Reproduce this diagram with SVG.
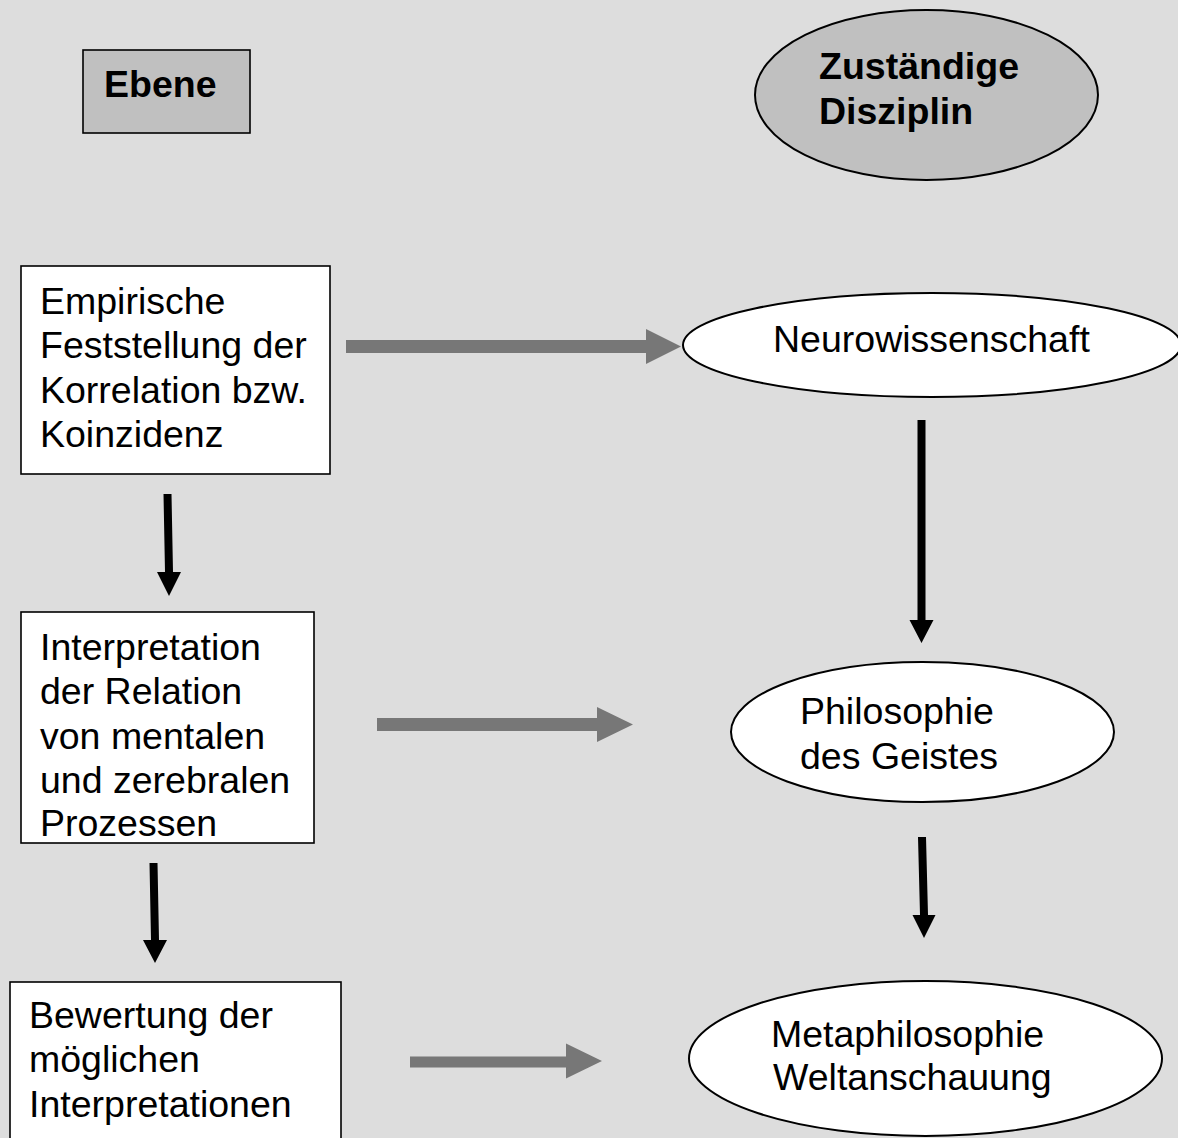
<svg xmlns="http://www.w3.org/2000/svg" width="1178" height="1138" viewBox="0 0 1178 1138">
<style>
.t{font-family:"Liberation Sans",Arial,sans-serif;font-size:37.5px;fill:#000}
.b{font-weight:bold}
.box{fill:#fff;stroke:#000;stroke-width:1.6}
.hbox{fill:#c0c0c0;stroke:#000;stroke-width:1.6}
.ell{fill:#fff;stroke:#000;stroke-width:2}
.hell{fill:#c0c0c0;stroke:#000;stroke-width:2}
.ga{fill:#777}
.ba{fill:#000}
</style>
<rect x="0" y="0" width="1178" height="1138" fill="#dddddd"/>
<g id="ebene">
<rect class="hbox" x="83" y="50" width="167" height="83"/>
<text class="t b" x="104" y="97">Ebene</text>
</g>
<g id="disziplin">
<ellipse class="hell" cx="926.5" cy="95" rx="171.5" ry="85"/>
<text class="t b" x="819" y="79">Zuständige</text>
<text class="t b" x="819" y="123.5">Disziplin</text>
</g>
<g id="empirisch">
<rect class="box" x="21" y="266" width="309" height="208"/>
<text class="t" x="40" y="313.5">Empirische</text>
<text class="t" x="40" y="358">Feststellung der</text>
<text class="t" x="40" y="402.5">Korrelation bzw.</text>
<text class="t" x="40" y="447">Koinzidenz</text>
</g>
<g id="interpretation">
<rect class="box" x="21" y="612" width="293" height="231"/>
<text class="t" x="40" y="659.5">Interpretation</text>
<text class="t" x="40" y="704">der Relation</text>
<text class="t" x="40" y="748.5">von mentalen</text>
<text class="t" x="40" y="793">und zerebralen</text>
<text class="t" x="40" y="836">Prozessen</text>
</g>
<g id="bewertung">
<rect class="box" x="10" y="982" width="331" height="170"/>
<text class="t" x="29" y="1028">Bewertung der</text>
<text class="t" x="29" y="1072">möglichen</text>
<text class="t" x="29" y="1117">Interpretationen</text>
</g>
<g id="neuro">
<ellipse class="ell" cx="932" cy="345" rx="249" ry="52"/>
<text class="t" x="773" y="352">Neurowissenschaft</text>
</g>
<g id="philosophie">
<ellipse class="ell" cx="922.5" cy="732" rx="191.5" ry="70"/>
<text class="t" x="800" y="724">Philosophie</text>
<text class="t" x="800" y="769">des Geistes</text>
</g>
<g id="meta">
<ellipse class="ell" cx="925.5" cy="1058.5" rx="236.5" ry="77.5"/>
<text class="t" x="771" y="1047">Metaphilosophie</text>
<text class="t" x="773" y="1090">Weltanschauung</text>
</g>
<g id="connectors">
<polygon class="ga" points="346,340 646,340 646,329 681,346.5 646,364 646,353 346,353"/>
<polygon class="ga" points="377,718 597,718 597,707 633,724.5 597,742 597,731 377,731"/>
<polygon class="ga" points="410,1056.5 566,1056.5 566,1043.5 602,1061 566,1078.5 566,1067.5 410,1067.5"/>
<polygon class="ba" points="163.5,494 171.5,494 173,572 181,572 169,596 157,572 165,572"/>
<polygon class="ba" points="149.5,863 157.5,863 159,940 167,940 155,963 143,940 151,940"/>
<polygon class="ba" points="917.5,420 925.5,420 925.5,620 933.5,620 921.5,643 909.5,620 917.5,620"/>
<polygon class="ba" points="918,837 926,837 928,915 935.5,915 924,938 912.5,915 920,915"/>
</g>
</svg>
